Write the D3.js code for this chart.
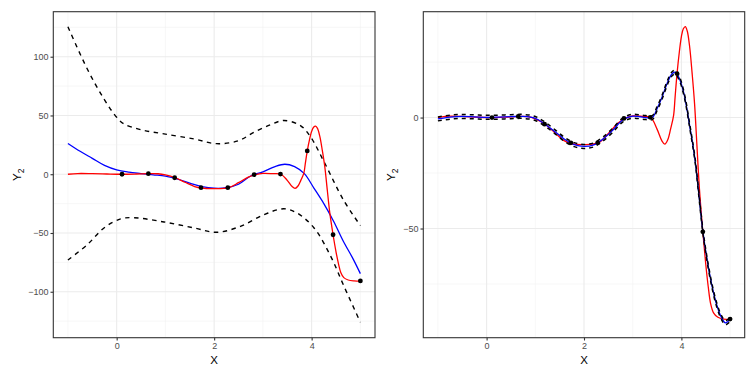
<!DOCTYPE html>
<html>
<head>
<meta charset="utf-8">
<script src="https://cdn.jsdelivr.net/npm/d3@7"></script>
<style>
  html, body { margin: 0; padding: 0; background: #fff; }
  svg { display: block; font-family: "Liberation Sans", Arial, sans-serif; }
</style>
</head>
<body>
<svg id="chart" width="756" height="378"></svg>
<script>
// ---------- data ----------
const pointX = [0.11, 0.65, 1.19, 1.73, 2.28, 2.82, 3.36, 3.91, 4.44, 5.0];
const pointY = [0, 0.5, -3, -11.4, -11.4, -0.4, 0.1, 19.8, -51.5, -90.8];

// red interpolating curve (same in both panels)
const redX = [-1, -0.8, -0.5, -0.2, 0.1, 0.4, 0.65, 0.85, 1.0, 1.2, 1.4, 1.6, 1.75, 2.0, 2.3, 2.5, 2.7, 2.85, 3.0, 3.2, 3.37, 3.5, 3.6, 3.66, 3.72, 3.78, 3.84, 3.87, 3.91, 3.96, 4.0, 4.04, 4.08, 4.12, 4.17, 4.22, 4.27, 4.32, 4.37, 4.44, 4.5, 4.55, 4.6, 4.66, 4.75, 4.87, 5.0];
const redY = [0, 0.6, 0.5, 0.2, 0, 0.2, 0.5, 0.4, -0.6, -3, -6.8, -10.5, -11.8, -12.2, -11.3, -7.2, -2.5, -0.3, 0.7, 0.5, 0, -5.2, -10.5, -12, -10, -5, 1, 9, 19.7, 30, 36.5, 40, 41, 39, 31.8, 20, 6.4, -13, -32, -51.5, -66, -76, -83.8, -88, -90, -90.8, -91];

// left panel: wide GP mean and band
const leftBlueX = [-1, -0.75, -0.5, -0.25, 0, 0.25, 0.5, 0.75, 1, 1.25, 1.5, 1.75, 2, 2.25, 2.5, 2.75, 3, 3.25, 3.45, 3.65, 3.85, 4.05, 4.25, 4.45, 4.65, 4.85, 5];
const leftBlueY = [26.2, 19.5, 13.5, 7.5, 3.7, 1.8, 0.6, -0.5, -1.6, -4.2, -7.5, -10.5, -11.9, -11.5, -8.5, -1.5, 2, 6.5, 8.5, 6.5, 0.5, -12, -25, -40, -57, -72, -84.6];
const leftUpperX = [-1, -0.6, -0.26, 0, 0.15, 0.49, 0.97, 1.59, 2.05, 2.5, 2.82, 3.15, 3.43, 3.77, 3.98, 4.27, 4.65, 5];
const leftUpperY = [125.5, 89.3, 64, 48.5, 42.8, 38, 34.3, 30, 26, 28.5, 35.8, 42, 45.7, 41.4, 31.6, 9.3, -21.7, -43.7];
const leftLowerX = [-1, -0.6, -0.26, 0.08, 0.35, 0.97, 1.59, 2.06, 2.54, 3.02, 3.43, 3.7, 4.05, 4.39, 4.66, 5];
const leftLowerY = [-73, -59.8, -45.7, -38, -37, -40.6, -45.7, -49.4, -44.3, -34.4, -29.4, -33, -45.7, -69.7, -95, -126];

// right panel: tight GP mean and band
const rightX = [-1, -0.75, -0.5, -0.25, 0, 0.25, 0.5, 0.75, 1.0, 1.2, 1.4, 1.6, 1.8, 2.0, 2.2, 2.4, 2.6, 2.8, 3.0, 3.2, 3.4, 3.5, 3.6, 3.7, 3.8, 3.87, 3.95, 4.05, 4.18, 4.28, 4.36, 4.44, 4.52, 4.62, 4.72, 4.82, 4.9, 4.95, 5.0];
const rightBlueY = [-0.6, 0.2, 0.5, 0.3, 0.1, 0.2, 0.4, 0.5, -0.4, -3, -6.3, -9.8, -12.2, -13, -12.3, -9.5, -5.5, -1, 0.6, 0.2, 0, 4, 9, 15, 19.5, 20.5, 18, 11, -5, -19, -35, -51, -63, -75, -84, -90, -92.5, -92, -90.8];
const rightUpperY = [0.3, 1.1, 1.4, 1.2, 1.0, 1.1, 1.3, 1.4, 0.5, -2.1, -5.4, -8.9, -11.3, -12.1, -11.4, -8.6, -4.6, -0.1, 1.5, 1.1, 0.9, 4.9, 9.9, 15.9, 20.4, 21.4, 18.9, 11.9, -4.1, -18.1, -34.1, -50.1, -62.1, -74.1, -83.1, -89.1, -91.6, -91.1, -89.9];
const rightLowerY = [-1.5, -0.7, -0.4, -0.6, -0.8, -0.7, -0.5, -0.4, -1.3, -3.9, -7.2, -10.7, -13.1, -13.9, -13.2, -10.4, -6.4, -1.9, -0.3, -0.7, -0.9, 3.1, 8.1, 14.1, 18.6, 19.6, 17.1, 10.1, -5.9, -19.9, -35.9, -51.9, -63.9, -75.9, -84.9, -90.9, -93.4, -92.9, -91.7];

const xTicks = [0, 2, 4];
const xMinor = [-1, 1, 3, 5];
const leftYTicks = [-100, -50, 0, 50, 100];
const leftYMinor = [-125, -75, -25, 25, 75, 125];
const rightYTicks = [-50, 0];
const rightYMinor = [-75, -25, 25];

// ---------- drawing ----------
const svg = d3.select("#chart");
const zip = (xs, ys) => xs.map((x, i) => [x, ys[i]]);
const fmt = v => (v < 0 ? "\u2212" + Math.abs(v) : String(v));

function panel(opts) {
  const { left, right, top, bottom, yDomain, yTicks, yMinor, series, titleX } = opts;
  const x = d3.scaleLinear().domain([-1.3, 5.3]).range([left, right]);
  const y = d3.scaleLinear().domain(yDomain).range([bottom, top]);
  const g = svg.append("g");

  // minor grid
  g.selectAll(null).data(xMinor).join("line")
    .attr("x1", d => x(d)).attr("x2", d => x(d)).attr("y1", top).attr("y2", bottom)
    .attr("stroke", "#f2f2f2").attr("stroke-width", 0.6);
  g.selectAll(null).data(yMinor).join("line")
    .attr("y1", d => y(d)).attr("y2", d => y(d)).attr("x1", left).attr("x2", right)
    .attr("stroke", "#f2f2f2").attr("stroke-width", 0.6);
  // major grid
  g.selectAll(null).data(xTicks).join("line")
    .attr("x1", d => x(d)).attr("x2", d => x(d)).attr("y1", top).attr("y2", bottom)
    .attr("stroke", "#ebebeb").attr("stroke-width", 1.1);
  g.selectAll(null).data(yTicks).join("line")
    .attr("y1", d => y(d)).attr("y2", d => y(d)).attr("x1", left).attr("x2", right)
    .attr("stroke", "#ebebeb").attr("stroke-width", 1.1);

  const clipId = "clip" + Math.round(left);
  svg.append("clipPath").attr("id", clipId).append("rect")
    .attr("x", left).attr("y", top).attr("width", right - left).attr("height", bottom - top);
  const plot = g.append("g").attr("clip-path", `url(#${clipId})`);

  const line = d3.line().x(d => x(d[0])).y(d => y(d[1])).curve(d3.curveCatmullRom.alpha(0.5));
  series.forEach(s => {
    plot.append("path").datum(s.data).attr("d", line)
      .attr("fill", "none").attr("stroke", s.color).attr("stroke-width", s.width || 1.3)
      .attr("stroke-dasharray", s.dash || null);
  });

  plot.selectAll(null).data(zip(pointX, pointY)).join("circle")
    .attr("cx", d => x(d[0])).attr("cy", d => y(d[1])).attr("r", 2.4).attr("fill", "#000");

  // border
  g.append("rect").attr("x", left).attr("y", top).attr("width", right - left).attr("height", bottom - top)
    .attr("fill", "none").attr("stroke", "#333333").attr("stroke-width", 1.1);

  // axes
  const xAxis = d3.axisBottom(x).tickValues(xTicks).tickSize(2.8).tickPadding(2).tickFormat(fmt);
  const ga = g.append("g").attr("transform", `translate(0,${bottom})`).call(xAxis);
  const yAxis = d3.axisLeft(y).tickValues(yTicks).tickSize(2.8).tickPadding(2).tickFormat(fmt);
  const gb = g.append("g").attr("transform", `translate(${left},0)`).call(yAxis);
  [ga, gb].forEach(a => {
    a.select(".domain").remove();
    a.selectAll(".tick line").attr("stroke", "#333333").attr("stroke-width", 1.1);
    a.selectAll(".tick text").attr("fill", "#4d4d4d").attr("font-size", 9)
      .attr("font-family", "Liberation Sans, Arial, sans-serif");
  });

  // titles
  g.append("text").attr("x", (left + right) / 2).attr("y", 364)
    .attr("text-anchor", "middle").attr("font-size", 11.5).attr("fill", "#000").text("X");
  const yt = g.append("text")
    .attr("transform", `translate(${titleX},${(top + bottom) / 2}) rotate(-90)`)
    .attr("text-anchor", "middle").attr("font-size", 11.5).attr("fill", "#000");
  yt.append("tspan").text("Y");
  yt.append("tspan").attr("font-size", 8.5).attr("dy", 3).text("2");
}

panel({
  left: 53.3, right: 375, top: 11.7, bottom: 337.7,
  yDomain: [-139.1, 138.3], yTicks: leftYTicks, yMinor: leftYMinor, titleX: 21,
  series: [
    { data: zip(leftUpperX, leftUpperY), color: "#000", dash: "4.5,4.5", width: 1.4 },
    { data: zip(leftLowerX, leftLowerY), color: "#000", dash: "4.5,4.5", width: 1.4 },
    { data: zip(leftBlueX, leftBlueY), color: "#0000ff" },
    { data: zip(redX, redY), color: "#ff0000" }
  ]
});

panel({
  left: 423.3, right: 744.7, top: 11.7, bottom: 337.7,
  yDomain: [-99.2, 47.7], yTicks: rightYTicks, yMinor: rightYMinor, titleX: 395,
  series: [
    { data: zip(redX, redY), color: "#ff0000" },
    { data: zip(rightX, rightBlueY), color: "#0000ff" },
    { data: zip(rightX, rightUpperY), color: "#000", dash: "4,4", width: 1.5 },
    { data: zip(rightX, rightLowerY), color: "#000", dash: "4,4", width: 1.5 }
  ]
});
</script>
</body>
</html>
